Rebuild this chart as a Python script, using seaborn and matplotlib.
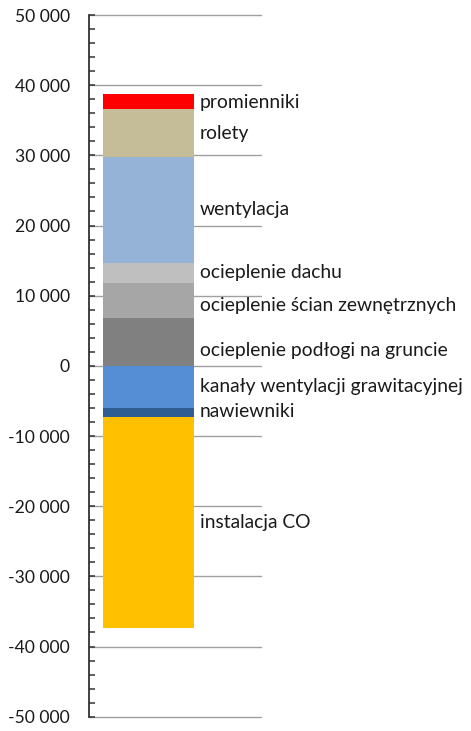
import numpy as np
import pandas as pd
import matplotlib
matplotlib.use("Agg")
import matplotlib.pyplot as plt
from matplotlib.ticker import MultipleLocator, FuncFormatter
import seaborn as sns

# positive items, bottom to top
pos_names = ["ocieplenie podłogi na gruncie", "ocieplenie ścian zewnętrznych",
             "ocieplenie dachu", "wentylacja", "rolety", "promienniki"]
pos_values = [6770, 5070, 2850, 15110, 6750, 2140]
pos_colors = ["#808080", "#A6A6A6", "#BFBFBF", "#95B3D7", "#C4BD97", "#FF0000"]

# negative items, top to bottom
neg_names = ["kanały wentylacji grawitacyjnej", "nawiewniki", "instalacja CO"]
neg_values = [-6010, -1330, -30030]
neg_colors = ["#558ED5", "#2F5C91", "#FFC000"]

sns.set_theme(style="white")
plt.rcParams["font.family"] = ["Lato", "DejaVu Sans"]

fig = plt.figure(figsize=(4.71, 7.31), dpi=100)
ax = fig.add_axes([89 / 471, 14.3 / 731, 172 / 471, 701.7 / 731])

pos_top = np.cumsum(pos_values)
neg_bot = np.cumsum(neg_values)

# overlay cumulative bars: largest first so smaller ones sit on top
for i in range(len(pos_values) - 1, -1, -1):
    df = pd.DataFrame({"x": [""], "y": [pos_top[i]]})
    sns.barplot(data=df, x="x", y="y", color=pos_colors[i], width=0.8,
                saturation=1, linewidth=0, ax=ax, zorder=3)
for i in range(len(neg_values) - 1, -1, -1):
    df = pd.DataFrame({"x": [""], "y": [neg_bot[i]]})
    sns.barplot(data=df, x="x", y="y", color=neg_colors[i], width=0.8,
                saturation=1, linewidth=0, ax=ax, zorder=3)

# labels at segment middles
pos_mid = pos_top - np.array(pos_values) / 2
neg_mid = neg_bot - np.array(neg_values) / 2
nudge_pos = [-8, -5, 0, 0, 0, -1]
nudge_neg = [0, 1, 0]
txt = dict(fontsize=13.9, color="#1a1a1a", va="center", ha="left", clip_on=False)
for name, m, d in zip(pos_names, pos_mid, nudge_pos):
    ax.annotate(name, (0.453, m), xytext=(0, d), textcoords="offset pixels", **txt)
for name, m, d in zip(neg_names, neg_mid, nudge_neg):
    ax.annotate(name, (0.453, m), xytext=(0, d), textcoords="offset pixels", **txt)

ax.set_xlim(-0.523, 0.989)
ax.set_ylim(-50000, 50000)
ax.yaxis.set_major_locator(MultipleLocator(10000))
ax.yaxis.set_minor_locator(MultipleLocator(2000))
ax.yaxis.set_major_formatter(FuncFormatter(lambda v, p: f"{int(v):,}".replace(",", " ")))
ax.tick_params(axis="y", which="major", direction="in", length=4.3, width=1.1,
               color="#333333", labelsize=12.6, labelcolor="#1a1a1a", left=True, pad=13.7)
ax.tick_params(axis="y", which="minor", direction="in", length=4.3, width=1.1,
               color="#333333", left=True)
ax.set_xticks([])
ax.set_xlabel("")
ax.set_ylabel("")
ax.grid(axis="y", which="major", color="#A0A0A0", linewidth=1.0, zorder=0)
ax.set_axisbelow(True)
for gl in ax.get_ygridlines():
    gl.set_clip_on(False)
for s in ["top", "right", "bottom"]:
    ax.spines[s].set_visible(False)
ax.spines["left"].set_color("#333333")
ax.spines["left"].set_linewidth(1.3)
ax.spines["left"].set_zorder(5)

fig.savefig("out.png", dpi=100)
